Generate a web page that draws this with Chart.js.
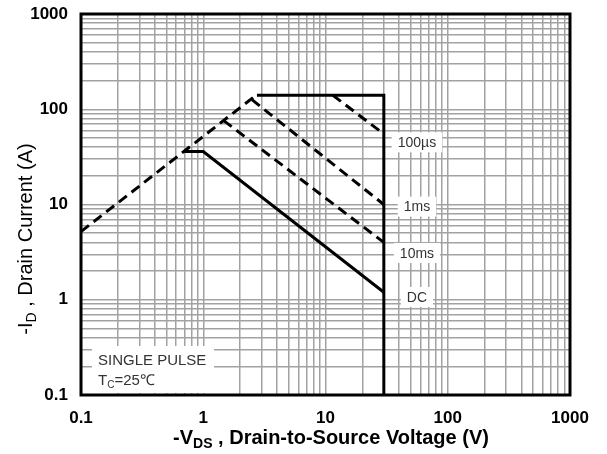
<!DOCTYPE html>
<html>
<head>
<meta charset="utf-8">
<script src="https://cdn.jsdelivr.net/npm/chart.js@4.4.0/dist/chart.umd.min.js"></script>
<style>
  html, body { margin: 0; padding: 0; background: #fff; }
  #wrap { width: 607px; height: 454px; position: relative; }
</style>
</head>
<body>
<div id="wrap"><canvas id="soa"></canvas></div>
<script>
// 軸の目盛（10の累乗）
const xDecades = [0.1, 1, 10, 100, 1000];
const yDecades = [0.1, 1, 10, 100, 1000];

// RDS(on) 制限（破線）
const rdsVds = [0.1, 2.7];
const rdsId  = [5.2, 140];

// 100µs / 1ms / 10ms パルス（破線）
const p100usVds = [11.5, 30];
const p100usId  = [140, 55];
const p1msVds   = [2.5, 30];
const p1msId    = [126, 10];
const p10msVds  = [1.47, 30];
const p10msId   = [76, 4];

// DC（実線）
const dcVds = [0.7, 1, 30];
const dcId  = [36, 36, 1.2];

// 電流・電圧の上限（実線）
const limitVds = [2.75, 30, 30];
const limitId  = [140, 140, 0.1];

// 曲線ラベル
const curveLabels = ["100µs", "1ms", "10ms", "DC"];
const curveLabelY = [45, 9.5, 3.1, 1.07];
const curveLabelX = 56;

const FONT = "'Liberation Sans', Arial, sans-serif";

function pts(xs, ys) {
  return xs.map((x, i) => ({ x, y: ys[i] }));
}

// 1〜9 × 10^n の補助目盛
function logTicks(decades) {
  const out = [];
  for (let i = 0; i < decades.length; i++) {
    const d = decades[i];
    if (i === decades.length - 1) { out.push({ value: d }); break; }
    for (let k = 1; k <= 9; k++) out.push({ value: +(d * k).toPrecision(6) });
  }
  return out;
}

function isDecade(v, decades) {
  return decades.some(d => Math.abs(d - v) < d * 1e-6);
}

// 添字付きテキストを描く
function drawRuns(ctx, runs, x, y, align) {
  let total = 0;
  for (const r of runs) { ctx.font = r.font; total += ctx.measureText(r.t).width; }
  let cx = align === "center" ? x - total / 2 : x;
  ctx.textAlign = "left";
  ctx.textBaseline = "alphabetic";
  for (const r of runs) {
    ctx.font = r.font;
    ctx.fillText(r.t, cx, y + (r.dy || 0));
    cx += ctx.measureText(r.t).width;
  }
}

const overlay = {
  id: "overlay",
  beforeDatasetsDraw(chart) {
    const { ctx, chartArea: a } = chart;
    ctx.save();
    ctx.strokeStyle = "#000";
    ctx.lineWidth = 3;
    ctx.strokeRect(a.left, a.top, a.right - a.left, a.bottom - a.top);
    ctx.restore();
  },
  afterDraw(chart) {
    const { ctx } = chart;
    const xs = chart.scales.x, ys = chart.scales.y;
    ctx.save();

    // 曲線ラベル（白抜き）
    ctx.font = "14px " + FONT;
    curveLabels.forEach((t, i) => {
      const px = xs.getPixelForValue(curveLabelX);
      const py = ys.getPixelForValue(curveLabelY[i]);
      const w = ctx.measureText(t).width;
      ctx.fillStyle = "#fff";
      ctx.fillRect(px - w / 2 - 6, py - 10, w + 12, 20);
      ctx.fillStyle = "#333";
      ctx.textAlign = "center";
      ctx.textBaseline = "middle";
      ctx.fillText(t, px, py + 1);
    });

    // 条件表示
    ctx.fillStyle = "#fff";
    ctx.fillRect(92, 346, 122, 47);
    ctx.fillStyle = "#333";
    ctx.font = "15px " + FONT;
    ctx.textAlign = "left";
    ctx.textBaseline = "alphabetic";
    ctx.fillText("SINGLE PULSE", 98, 365);
    drawRuns(ctx, [
      { t: "T", font: "15px " + FONT },
      { t: "C", font: "10px " + FONT, dy: 3 },
      { t: "=25℃", font: "15px " + FONT }
    ], 98, 385, "left");

    // 軸タイトル
    ctx.fillStyle = "#000";
    drawRuns(ctx, [
      { t: "-V", font: "bold 20px " + FONT },
      { t: "DS", font: "bold 14px " + FONT, dy: 4 },
      { t: " , Drain-to-Source Voltage (V)", font: "bold 20px " + FONT }
    ], 331, 444, "center");

    ctx.translate(32, 239);
    ctx.rotate(-Math.PI / 2);
    drawRuns(ctx, [
      { t: "-I", font: "20px " + FONT },
      { t: "D", font: "14px " + FONT, dy: 4 },
      { t: " , Drain Current (A)", font: "20px " + FONT }
    ], 0, 0, "center");
    ctx.restore();
  }
};

const dashed = { borderColor: "#000", borderWidth: 3, borderDash: [10, 6], pointRadius: 0, fill: false, tension: 0 };
const solid  = { borderColor: "#000", borderWidth: 3, pointRadius: 0, fill: false, tension: 0 };

const tickFont = { family: FONT, size: 17, weight: "bold" };

new Chart(document.getElementById("soa"), {
  type: "scatter",
  data: {
    datasets: [
      { ...dashed, label: "RDS(on)", data: pts(rdsVds, rdsId), showLine: true },
      { ...dashed, label: "100µs", data: pts(p100usVds, p100usId), showLine: true },
      { ...dashed, label: "1ms", data: pts(p1msVds, p1msId), showLine: true },
      { ...dashed, label: "10ms", data: pts(p10msVds, p10msId), showLine: true },
      { ...solid, label: "DC", data: pts(dcVds, dcId), showLine: true },
      { ...solid, label: "limit", data: pts(limitVds, limitId), showLine: true }
    ]
  },
  options: {
    responsive: true,
    maintainAspectRatio: false,
    animation: false,
    events: [],
    layout: { padding: { left: 0, top: 14, right: 37, bottom: 0 } },
    plugins: { legend: { display: false }, tooltip: { enabled: false } },
    scales: {
      x: {
        type: "logarithmic",
        min: 0.1, max: 1000,
        afterBuildTicks: s => { s.ticks = logTicks(xDecades); },
        afterFit: s => { s.height = 59; s.paddingLeft = 0; s.paddingRight = 0; },
        grid: { color: "#a2a2a2", lineWidth: 1.5, drawTicks: false },
        border: { display: false },
        ticks: {
          autoSkip: false, maxRotation: 0, padding: 13,
          color: "#000", font: tickFont,
          callback: v => isDecade(v, xDecades) ? String(v) : ""
        }
      },
      y: {
        type: "logarithmic",
        min: 0.1, max: 1000,
        afterBuildTicks: s => { s.ticks = logTicks(yDecades); },
        afterFit: s => { s.width = 81; s.paddingTop = 0; s.paddingBottom = 0; },
        grid: { color: "#a2a2a2", lineWidth: 1.5, drawTicks: false },
        border: { display: false },
        ticks: {
          autoSkip: false, padding: 13,
          color: "#000", font: tickFont,
          callback: v => isDecade(v, yDecades) ? String(v) : ""
        }
      }
    }
  },
  plugins: [overlay]
});
</script>
</body>
</html>
